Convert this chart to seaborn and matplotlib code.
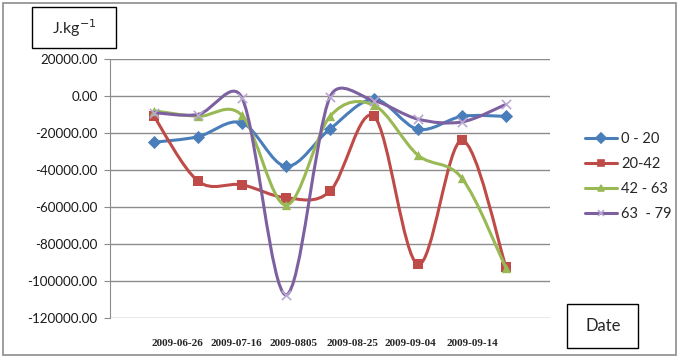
import numpy as np
import pandas as pd
import matplotlib
matplotlib.use("Agg")
import matplotlib.pyplot as plt
from matplotlib.path import Path
from matplotlib.patches import PathPatch, Rectangle
from matplotlib.lines import Line2D
import seaborn as sns

# data (9 sampling dates, 4 depth layers)
series_names = ["0 - 20", "20-42", "42 - 63", "63  - 79"]
depth_0_20 = [-25000, -22000, -14500, -38000, -17800, -1800, -18000, -11000, -11000]
depth_20_42 = [-11000, -46000, -48000, -55000, -51500, -11000, -91000, -24000, -92500]
depth_42_63 = [-8000, -11000, -10500, -59000, -11000, -5000, -32000, -44500, -93000]
depth_63_79 = [-9000, -10000, -1000, -107500, -500, -2500, -12500, -14000, -4500]
date_labels = ["2009-06-26", "2009-07-16", "2009-0805", "2009-08-25", "2009-09-04", "2009-09-14"]

colors = ["#4A7EBB", "#BE4B48", "#98B954", "#7D60A0"]
markers = ["D", "s", "^", "x"]

values = [depth_0_20, depth_20_42, depth_42_63, depth_63_79]
df = pd.concat(
    [pd.DataFrame({"idx": np.arange(len(v)), "val": v, "layer": n}) for n, v in zip(series_names, values)],
    ignore_index=True,
)

W, H = 680, 359
fig = plt.figure(figsize=(W / 100, H / 100), dpi=100)
sns.set_style("white")
plt.rcParams["font.family"] = ["Lato", "DejaVu Sans"]


def fx(x):
    return x / W


def fy(y):
    return 1 - y / H


ax = fig.add_axes([fx(110), fy(318), fx(550) - fx(110), fy(59) - fy(318)])
ax.set_xlim(-1, 9)
ax.set_ylim(-120000, 20000)


def smooth_path(xs, ys):
    # Excel-like smoothed line: bezier segments, control arms limited to half the chord
    pts = np.column_stack([xs, ys]).astype(float)
    sc = np.array([44.0, 37.0 / 20000])  # pixels per data unit, for distances
    n = len(pts)
    verts = [pts[0]]
    codes = [Path.MOVETO]
    for i in range(n - 1):
        p0 = pts[max(i - 1, 0)]
        p1 = pts[i]
        p2 = pts[i + 1]
        p3 = pts[min(i + 2, n - 1)]
        d12 = np.hypot(*((p2 - p1) * sc))
        d02 = np.hypot(*((p2 - p0) * sc))
        d13 = np.hypot(*((p3 - p1) * sc))
        f0 = 1 / 6 if d02 / 6 < d12 / 2 else d12 / d02 / 2
        f3 = 1 / 6 if d13 / 6 < d12 / 2 else d12 / d13 / 2
        c1 = p1 + (p2 - p0) * f0
        c2 = p2 - (p3 - p1) * f3
        verts += [c1, c2, p2]
        codes += [Path.CURVE4] * 3
    return Path(verts, codes)


for k, name in enumerate(series_names):
    sub = df[df["layer"] == name]
    patch = PathPatch(smooth_path(sub["idx"].values, sub["val"].values), fill=False,
                      edgecolor=colors[k], lw=2.2, zorder=2 + 2 * k, capstyle="round")
    ax.add_patch(patch)
    if markers[k] == "x":
        sns.scatterplot(data=sub, x="idx", y="val", marker="x", color="#B9A9D2",
                        s=45, linewidth=1.2, ax=ax, zorder=3 + 2 * k)
    else:
        sns.scatterplot(data=sub, x="idx", y="val", marker=markers[k], color=colors[k],
                        s=45, linewidth=0, ax=ax, zorder=3 + 2 * k)

ax.set_xlim(-1, 9)
ax.set_ylim(-120000, 20000)
ax.set_yticks(np.arange(-120000, 20001, 20000))
ax.yaxis.set_major_formatter(matplotlib.ticker.FormatStrFormatter("%.2f"))
ax.set_xticks([])
ax.set_xlabel("")
ax.set_ylabel("")
ax.grid(axis="y", color="#8C8C8C", lw=1)
ax.set_axisbelow(True)
for s in ["top", "right", "bottom"]:
    ax.spines[s].set_visible(False)
ax.spines["left"].set_color("#8C8C8C")
ax.tick_params(axis="y", left=True, length=4.5, color="#8C8C8C", labelsize=9.6,
               labelcolor="#1a1a1a", pad=4.5)

# date labels (text box under the plot, not aligned with points)
for xc, lab in zip([177, 236, 293, 352, 410, 472], date_labels):
    fig.text(fx(xc), fy(343), lab, ha="center", va="center", fontsize=8,
             fontweight="bold", family="Liberation Serif")

# legend
leg_marker_colors = colors[:3] + ["#B9A9D2"]
handles = [Line2D([0], [0], color=c, lw=2.2, marker=m, markersize=5, markeredgewidth=1.2,
                  markerfacecolor=mc, markeredgecolor=mc)
           for c, m, mc in zip(colors, markers, leg_marker_colors)]
fig.legend(handles, series_names, loc="upper left", bbox_to_anchor=(fx(579), fy(126)),
           frameon=False, fontsize=10.5, handlelength=2.2, handletextpad=0.3,
           labelspacing=0.75, borderaxespad=0)

# boxes
fig.patches.append(Rectangle((fx(32), fy(48)), fx(84), 41 / H, transform=fig.transFigure,
                             fill=False, edgecolor="black", lw=1))
fig.text(fx(74), fy(28), "J.kg$^{-1}$", ha="center", va="center", fontsize=11.5)
fig.patches.append(Rectangle((fx(567), fy(348)), fx(71), 44 / H, transform=fig.transFigure,
                             fill=False, edgecolor="black", lw=1))
fig.text(fx(603), fy(326), "Date", ha="center", va="center", fontsize=12)
fig.patches.append(Rectangle((fx(3), fy(355)), fx(673), 352 / H, transform=fig.transFigure,
                             fill=False, edgecolor="#8C8C8C", lw=1.2))

fig.savefig("out.png", dpi=100)
